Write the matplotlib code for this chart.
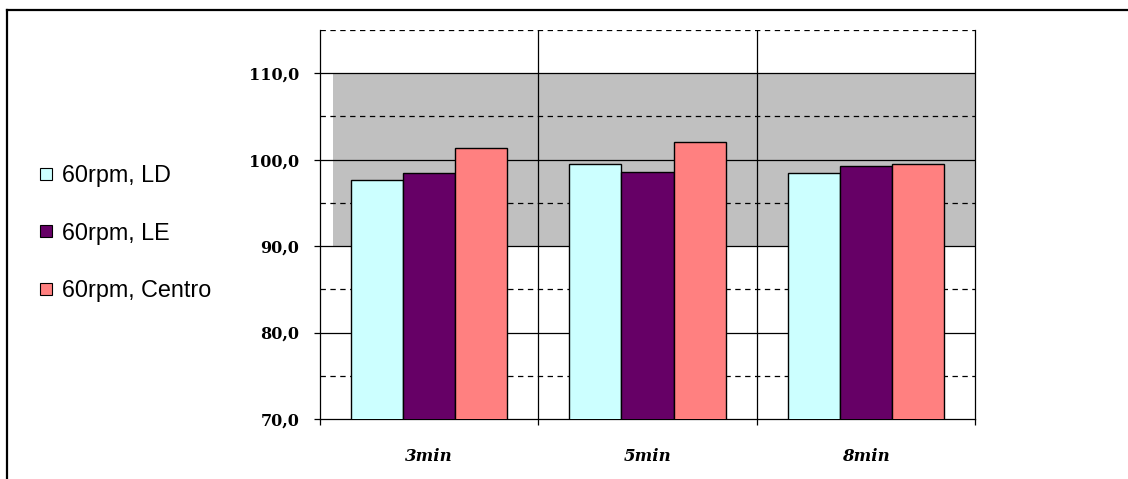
import matplotlib
matplotlib.use("Agg")
import matplotlib.pyplot as plt
import numpy as np
from matplotlib.lines import Line2D
from matplotlib.ticker import FixedLocator, FuncFormatter

# Dissolution at 60 rpm, three sampling points per time
categories = ["3min", "5min", "8min"]
series_labels = ["60rpm, LD", "60rpm, LE", "60rpm, Centro"]
ld = [97.7, 99.5, 98.4]
le = [98.4, 98.6, 99.3]
centro = [101.4, 102.0, 99.5]
colors = ["#CCFFFF", "#660066", "#FF8080"]

band_low, band_high = 90.0, 110.0
y_min, y_max = 70.0, 115.0

fig = plt.figure(figsize=(11.28, 4.79), dpi=100)
ax = fig.add_axes([320 / 1128, 1 - 419 / 479, 655 / 1128, 389 / 479])

x = np.arange(len(categories))
width = 0.2385

# acceptance band
ax.fill_between([-0.44, 2.5], band_low, band_high, color="#C0C0C0", zorder=0, lw=0)

# horizontal grid: solid every 10, dashed in between
for v in np.arange(80, 111, 10):
    ax.axhline(v, color="black", lw=0.9, zorder=1)
for v in np.arange(75, 116, 10):
    ax.axhline(v, color="black", lw=0.9, ls=(0, (4.3, 3.6)), zorder=1)
# category separators
for b in [0.5, 1.5]:
    ax.axvline(b, color="black", lw=0.9, zorder=1)

for i, (vals, lab, c) in enumerate(zip([ld, le, centro], series_labels, colors)):
    ax.bar(x + (i - 1) * width, vals, width, bottom=0, color=c,
           edgecolor="black", linewidth=1.0, label=lab, zorder=3)

ax.set_xlim(-0.5, 2.5)
ax.set_ylim(y_min, y_max)

ax.yaxis.set_major_locator(FixedLocator(np.arange(70, 111, 10)))
ax.yaxis.set_major_formatter(FuncFormatter(lambda v, _: f"{v:.1f}".replace(".", ",")))
ax.tick_params(axis="y", which="major", length=4.3, width=0.9, pad=10.5,
               direction="out")
for t in ax.get_yticklabels():
    t.set_fontfamily("DejaVu Serif")
    t.set_fontweight("bold")
    t.set_fontsize(11.5)

ax.set_xticks(x)
ax.set_xticklabels(categories, fontfamily="DejaVu Serif", fontweight="bold",
                   fontstyle="italic", fontsize=12)
ax.set_xticks([-0.5, 0.5, 1.5, 2.5], minor=True)
ax.tick_params(axis="x", which="major", length=0, pad=21)
ax.tick_params(axis="x", which="minor", length=4.3, width=0.9, direction="out")

for s in ["left", "right", "bottom"]:
    ax.spines[s].set_linewidth(0.9)
ax.spines["top"].set_visible(False)

handles = [Line2D([], [], marker="s", ls="none", markersize=8,
                  markerfacecolor=c, markeredgecolor="black", markeredgewidth=0.8)
           for c in colors]
fig.legend(handles, series_labels, loc="center left",
           bbox_to_anchor=(39 / 1128, 1 - 233 / 479), frameon=False,
           prop={"family": "Liberation Sans", "size": 16.8},
           handlelength=0.6, handletextpad=0.4, labelspacing=1.47,
           borderpad=0, borderaxespad=0)

# chart frame
fig.add_artist(Line2D([7 / 1128, 7 / 1128], [0, 1 - 10 / 479], color="black", lw=1.6))
fig.add_artist(Line2D([7 / 1128, 1], [1 - 10 / 479, 1 - 10 / 479], color="black", lw=1.6))

fig.savefig("out.png", dpi=100)
